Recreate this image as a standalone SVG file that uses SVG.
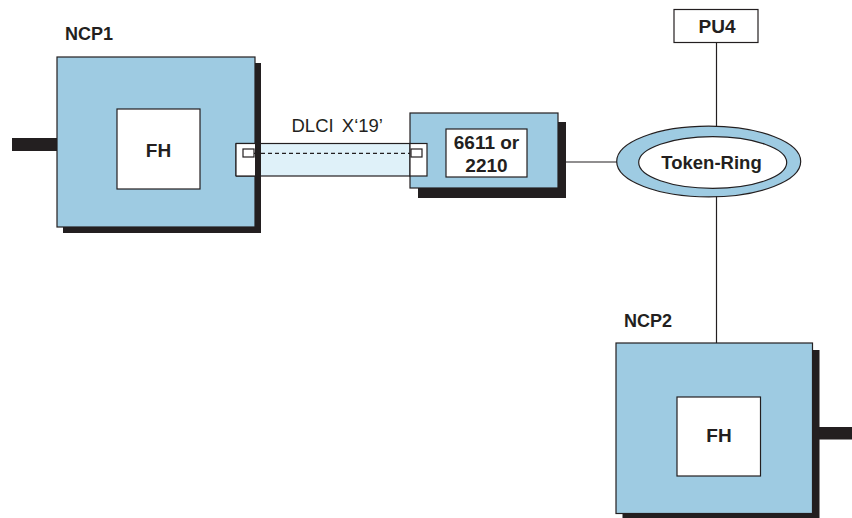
<svg xmlns="http://www.w3.org/2000/svg" width="852" height="518" viewBox="0 0 852 518">
<style>
.box{fill:#9ecbe2;stroke:#231f20;stroke-width:1.2}
.shadow{fill:#231f20}
.wbox{fill:#ffffff;stroke:#231f20;stroke-width:1.2}
.ln{stroke:#231f20;stroke-width:1.2;fill:none}
.b{font-family:"Liberation Sans",Arial,sans-serif;font-weight:bold;fill:#231f20;text-anchor:middle}
.r{font-family:"Liberation Sans",Arial,sans-serif;fill:#231f20}
</style>
<rect width="852" height="518" fill="#ffffff"/>
<g id="connectors">
<line class="ln" x1="200" y1="152.5" x2="236" y2="152.5"/>
<line class="ln" x1="427" y1="152.5" x2="446" y2="152.5"/>
<line class="ln" x1="558" y1="162" x2="617" y2="162"/>
<line class="ln" x1="716.5" y1="42" x2="716.5" y2="126"/>
<line class="ln" x1="716.5" y1="196" x2="716.5" y2="343"/>
</g>
<g id="ncp1">
<rect x="12" y="138" width="46" height="13" class="shadow"/>
<rect x="63" y="63" width="198" height="170" class="shadow"/>
<rect x="57" y="57" width="198" height="170" class="box"/>
<text x="65" y="40" class="r" style="font-weight:bold;font-size:18px">NCP1</text>
</g>
<g id="fh1">
<rect x="117" y="109" width="83" height="80" class="wbox"/>
<text x="158.5" y="156.5" class="b" font-size="19">FH</text>
</g>
<g id="dlci">
<rect x="236" y="143.5" width="190" height="32.5" fill="#dff1f9" stroke="#231f20" stroke-width="1.2"/>
<rect x="236" y="143.5" width="19" height="32.5" fill="#ffffff"/>
<line x1="236" y1="143.5" x2="255" y2="143.5" class="ln"/>
<line x1="236" y1="176" x2="255" y2="176" class="ln"/>
<line x1="236" y1="143.5" x2="236" y2="176" class="ln"/>
<rect x="255" y="63" width="6" height="170" class="shadow"/>
<rect x="243" y="149" width="11" height="8" class="wbox"/>
<line x1="254" y1="153.3" x2="411" y2="153.3" stroke="#231f20" stroke-width="1.2" stroke-dasharray="4,3"/>
<text x="291.5" y="131.5" class="r" font-size="18.5" word-spacing="3">DLCI X‘19’</text>
</g>
<g id="dev6611">
<rect x="418" y="122" width="148" height="76" class="shadow"/>
<rect x="410" y="113" width="148" height="75" class="box"/>
<rect x="410" y="143.5" width="17" height="32.5" class="wbox"/>
<rect x="411" y="149" width="11" height="8" class="wbox"/>
<rect x="446" y="129" width="81" height="48" class="wbox"/>
<text x="486.5" y="149" class="b" font-size="19">6611 or</text>
<text x="486.5" y="172" class="b" font-size="19">2210</text>
</g>
<g id="tokenring">
<ellipse cx="708.7" cy="161.5" rx="92" ry="35.3" fill="#9ecbe2" stroke="#231f20" stroke-width="1.2"/>
<ellipse cx="712.7" cy="162.5" rx="74" ry="25.8" fill="#ffffff" stroke="#231f20" stroke-width="1.2"/>
<text x="711.5" y="169" class="b" font-size="18.5">Token-Ring</text>
</g>
<g id="pu4">
<rect x="674" y="9.5" width="84" height="33" class="wbox" stroke-width="1"/>
<text x="717" y="33" class="b" font-size="19">PU4</text>
</g>
<g id="ncp2">
<rect x="819" y="427" width="33" height="12.5" class="shadow"/>
<rect x="622.5" y="350" width="197" height="170" class="shadow"/>
<rect x="616" y="343" width="196.5" height="170.5" class="box"/>
<text x="624" y="327" class="r" style="font-weight:bold;font-size:18px">NCP2</text>
</g>
<g id="fh2">
<rect x="677" y="397" width="83.5" height="79" class="wbox"/>
<text x="719" y="442" class="b" font-size="19">FH</text>
</g>
</svg>
